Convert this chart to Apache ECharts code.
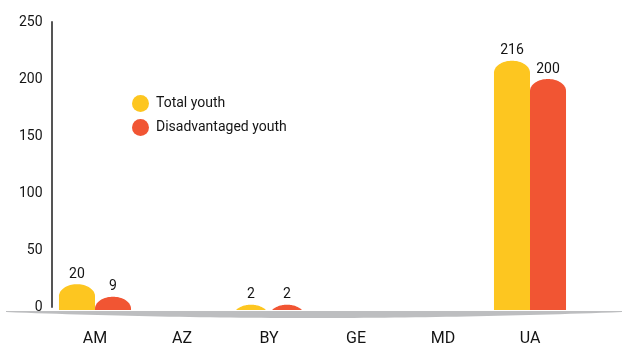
<!DOCTYPE html>
<html>
<head>
<meta charset="utf-8">
<style>
  html, body { margin: 0; padding: 0; background: #fff; }
  #chart { width: 622px; height: 347px; }
</style>
<script src="https://cdn.jsdelivr.net/npm/echarts@6/dist/echarts.min.js"></script>
</head>
<body>
<div id="chart"></div>
<script>
// Youth participants by country
const categories = ['AM', 'AZ', 'BY', 'GE', 'MD', 'UA'];
const totalYouth = [20, 0, 2, 0, 0, 216];
const disadvantagedYouth = [9, 0, 2, 0, 0, 200];
const seriesNames = ['Total youth', 'Disadvantaged youth'];
const seriesColors = ['#fdc620', '#f15533'];

const FONT = "Roboto, sans-serif";
const INK = '#141414';

// Bar with an elliptical dome on top, cut off at the ground line
function domeBar(params, api) {
  const cat = api.value(0);
  const val = api.value(1);
  if (!val) return null;
  const top = api.coord([cat, val]);
  const zero = api.coord([cat, 0]);
  const band = api.size([1, 0])[0];
  const w = band * 0.414;
  const cx = top[0] + (params.seriesIndex === 0 ? -w / 2 : w / 2);
  const rx = w / 2, ry = 12;
  const yt = top[1];
  const yb = zero[1] + 3;
  const cy = yt + ry;
  const pts = [];
  const steps = 40;
  if (yb >= cy) {
    pts.push([cx - rx, yb]);
    for (let i = 0; i <= steps; i++) {
      const a = Math.PI - Math.PI * i / steps;
      pts.push([cx + rx * Math.cos(a), cy - ry * Math.sin(a)]);
    }
    pts.push([cx + rx, yb]);
  } else {
    const a0 = Math.asin((cy - yb) / ry);
    for (let i = 0; i <= steps; i++) {
      const a = (Math.PI - a0) - (Math.PI - 2 * a0) * i / steps;
      pts.push([cx + rx * Math.cos(a), cy - ry * Math.sin(a)]);
    }
  }
  const color = api.visual('color');
  return {
    type: 'group',
    children: [
      { type: 'polygon', shape: { points: pts }, style: { fill: color } },
      {
        type: 'text',
        style: {
          text: String(val), x: cx, y: yt - 3,
          align: 'center', verticalAlign: 'bottom',
          fontFamily: FONT, fontSize: 14, fill: INK
        }
      }
    ]
  };
}

function toData(values) {
  return values.map((v, i) => [i, v]);
}

// grey ground strip: straight top edge, curved lower edge
function groundPoints() {
  const pts = [[6, 311], [622, 311], [622, 312]];
  const n = 60;
  for (let i = 0; i <= n; i++) {
    const t = i / n;
    const x = (1 - t) * (1 - t) * 622 + 2 * t * (1 - t) * 311 + t * t * 6;
    const y = (1 - t) * (1 - t) * 312 + 2 * t * (1 - t) * 324 + t * t * 312;
    pts.push([x, y]);
  }
  return pts;
}

const chart = echarts.init(document.getElementById('chart'), null, { renderer: 'canvas' });
chart.setOption({
  animation: false,
  textStyle: { fontFamily: FONT },
  grid: { left: 51.5, right: 48.5, top: 22, bottom: 39 },
  legend: {
    data: seriesNames,
    orient: 'vertical',
    left: 132, top: 95,
    icon: 'circle',
    itemWidth: 17, itemHeight: 17, itemGap: 7,
    padding: 0,
    textStyle: { fontFamily: FONT, fontSize: 14, color: INK, padding: [0, 0, 0, 2] }
  },
  xAxis: {
    type: 'category',
    data: categories,
    axisLine: { show: false },
    axisTick: { show: false },
    axisLabel: { fontFamily: FONT, fontSize: 16, color: INK, margin: 24 }
  },
  yAxis: {
    type: 'value',
    min: 0, max: 250, interval: 50,
    splitLine: { show: false },
    axisTick: { show: false },
    axisLine: { show: true, lineStyle: { color: '#555', width: 2 } },
    axisLabel: { fontFamily: FONT, fontSize: 14, color: INK, margin: 9, padding: [0, 0, 5, 0] }
  },
  graphic: [{
    type: 'polygon',
    z: 1,
    shape: { points: groundPoints() },
    style: { fill: '#bdbec0' }
  }],
  series: [
    {
      name: seriesNames[0], type: 'custom', z: 3,
      itemStyle: { color: seriesColors[0] },
      renderItem: domeBar,
      encode: { x: 0, y: 1 },
      data: toData(totalYouth)
    },
    {
      name: seriesNames[1], type: 'custom', z: 3,
      itemStyle: { color: seriesColors[1] },
      renderItem: domeBar,
      encode: { x: 0, y: 1 },
      data: toData(disadvantagedYouth)
    }
  ]
});
</script>
</body>
</html>
